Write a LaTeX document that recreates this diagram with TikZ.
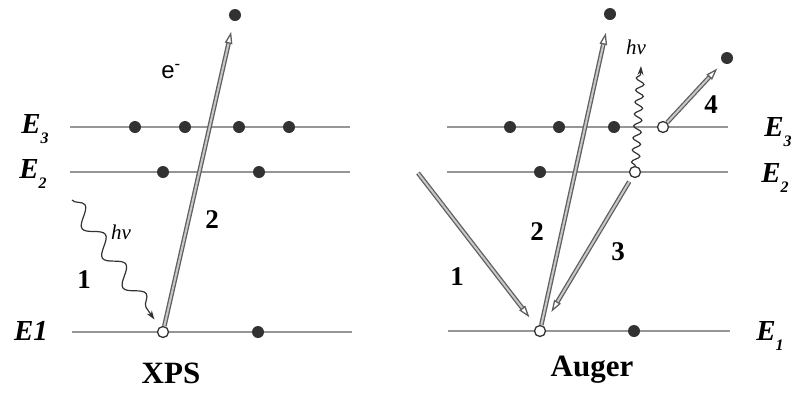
\documentclass[tikz,border=0pt]{standalone}
\usepackage{fontspec}
\setmainfont{Liberation Serif}
\setsansfont{Liberation Sans}
\usetikzlibrary{arrows.meta,decorations.pathmorphing,calc}
\definecolor{linec}{RGB}{150,150,150}
\definecolor{dotc}{RGB}{50,50,50}
\definecolor{arrc}{RGB}{95,95,95}
\definecolor{arrin}{RGB}{200,200,200}
\tikzset{
  level/.style={draw=linec, line width=2pt},
  filled/.style={circle, fill=dotc, inner sep=0pt, minimum size=12pt},
  hollow/.style={circle, draw=dotc, fill=white, line width=1.3pt, inner sep=0pt, minimum size=11pt},
  dblarrow/.style={draw=arrc, line width=1.3pt, double=arrin, double distance=2pt,
    -{Triangle[open, length=12pt, width=7.5pt, fill=white]}},
  lbl/.style={font=\fontsize{27}{27}\selectfont\bfseries},
  elbl/.style={font=\fontsize{29}{29}\selectfont\bfseries\itshape, anchor=center},
  title/.style={font=\fontsize{31}{31}\selectfont\bfseries},
  hnu/.style={font=\fontsize{21}{21}\selectfont\itshape},
  wave/.style={draw=dotc, line width=1.2pt, decorate, -{Stealth[length=9pt,width=6pt]}},
}
\newcommand{\El}[1]{E\raisebox{-0.33em}{\fontsize{16}{16}\selectfont #1}}
\begin{document}
\begin{tikzpicture}[x=1pt,y=-1pt]
\useasboundingbox (0,0) rectangle (801,392);
% ---------- XPS (left) ----------
\draw[level] (70,127) -- (350,127);
\draw[level] (70,172) -- (350,172);
\draw[level] (72,332) -- (352,332);
\node[elbl] (lE3) at (35,129) {\El{3}};
\node[elbl] (lE2) at (33,174) {\El{2}};
\node[elbl] (lE1) at (31,331) {E1};
\foreach \x/\n in {135/a,185/b,239/c,289/d} \node[filled] (l3\n) at (\x,127) {};
\foreach \x/\n in {163/a,259/b} \node[filled] (l2\n) at (\x,172) {};
\node[hollow] (lh1) at (163,332) {};
\node[filled] (l1b) at (258,332) {};
\node[filled] (ltop) at (235,15) {};
\coordinate (lwstart) at (72,200);
\draw[wave, decoration={snake, segment length=36pt, amplitude=8pt, post length=14pt}, shorten >=9pt] (lwstart) -- (lh1);
\draw[dblarrow, shorten >=11pt] (lh1) -- (ltop);
\node[font=\fontsize{24}{24}\selectfont\sffamily] (em) at (171,72) {e\textsuperscript{-}};
\node[hnu] (lhnu) at (121,232) {hν};
\node[lbl] (l1) at (84,280) {1};
\node[lbl] (l2) at (212,220) {2};
\node[title] (xps) at (171,373) {XPS};
% ---------- Auger (right) ----------
\draw[level] (447,127) -- (728,127);
\draw[level] (447,172) -- (728,172);
\draw[level] (448,331) -- (730,331);
\node[elbl] (rE3) at (778,132) {\El{3}};
\node[elbl] (rE2) at (775,178) {\El{2}};
\node[elbl] (rE1) at (770,336) {\El{1}};
\foreach \x/\n in {510/a,559/b,614/c} \node[filled] (r3\n) at (\x,127) {};
\node[hollow] (rh3) at (663,127) {};
\node[filled] (r2a) at (540,172) {};
\node[hollow] (rh2) at (635,172) {};
\node[hollow] (rh1) at (540,331) {};
\node[filled] (r1b) at (634,331) {};
\node[filled] (rtop) at (610,14) {};
\node[filled] (rright) at (727,58) {};
\coordinate (r1start) at (418,173);
\coordinate (rwend) at (641,66);
\draw[dblarrow, shorten >=11pt] (r1start) -- (rh1);
\draw[dblarrow, shorten >=13pt] (rh1) -- (rtop);
\draw[dblarrow, shorten <=5pt, shorten >=16pt] (rh2) -- (rh1);
\draw[dblarrow, shorten >=8pt] (rh3) -- (rright);
\draw[wave, decoration={snake, segment length=12pt, amplitude=4pt, post length=8pt}] (rh2) -- (rwend);
\node[hnu] (rhnu) at (636,47) {hν};
\node[lbl] (r1) at (457,277) {1};
\node[lbl] (r2) at (537,232) {2};
\node[lbl] (r3) at (618,252) {3};
\node[lbl] (r4) at (711,105) {4};
\node[title] (aug) at (592,370) {Auger};
\end{tikzpicture}
\end{document}
